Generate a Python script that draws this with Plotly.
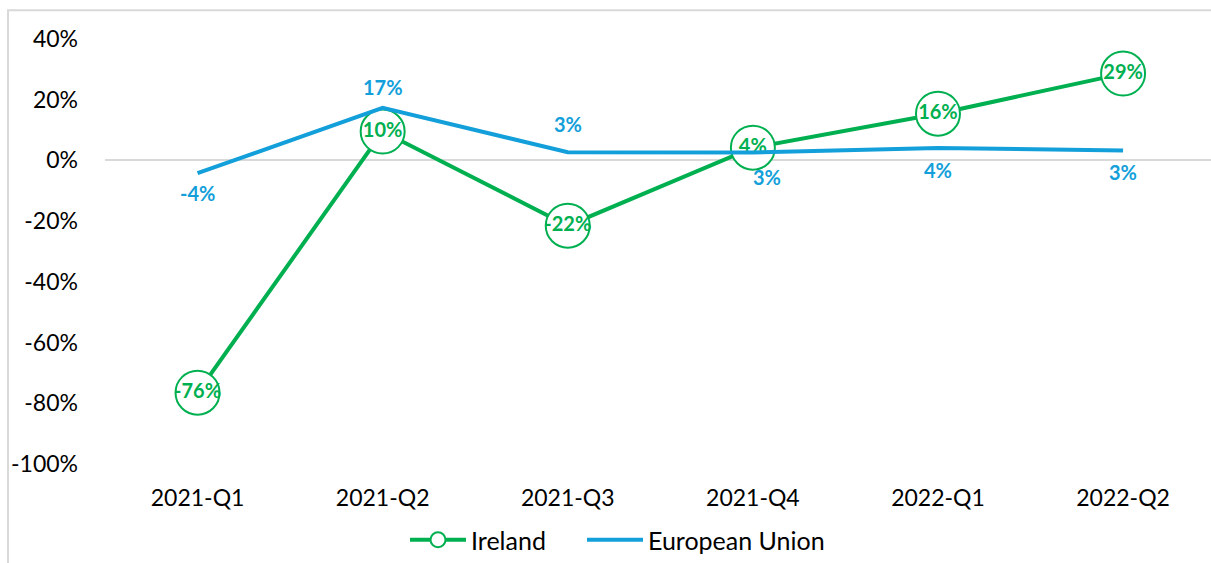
import plotly.graph_objects as go

quarters = ["2021-Q1", "2021-Q2", "2021-Q3", "2021-Q4", "2022-Q1", "2022-Q2"]
ireland = [-76.5, 9.5, -21.5, 4.2, 15.4, 28.6]
ireland_labels = ["-76%", "10%", "-22%", "4%", "16%", "29%"]
eu = [-4.2, 17.3, 2.7, 2.6, 4.1, 3.3]
eu_labels = ["-4%", "17%", "3%", "3%", "4%", "3%"]
y_ticks = [40, 20, 0, -20, -40, -60, -80, -100]

GREEN = "#00B050"
BLUE = "#139FDA"
FONT = "Lato"

W, H = 1211, 563
ML, MR, MT, MB = 105, 0, 39, 96
PW = W - ML - MR
PH = H - MT - MB

fig = go.Figure()

fig.add_trace(go.Scatter(
    x=quarters, y=ireland, mode="lines+markers+text",
    text=ireland_labels, textposition="middle center",
    textfont=dict(family=FONT, size=20, color=GREEN, weight="bold"),
    line=dict(color=GREEN, width=4),
    marker=dict(symbol="circle", size=44, color="white", line=dict(color=GREEN, width=2)),
    showlegend=False, cliponaxis=False, hoverinfo="skip",
))
fig.add_trace(go.Scatter(
    x=[None], y=[None], mode="lines+markers", name="Ireland", legend="legend",
    line=dict(color=GREEN, width=4),
    marker=dict(symbol="circle", size=15, color="white", line=dict(color=GREEN, width=2)),
))
fig.add_trace(go.Scatter(
    x=quarters, y=eu, mode="lines", name="European Union", legend="legend2",
    line=dict(color=BLUE, width=4), cliponaxis=False,
))

shifts = [(0, -20), (0, 21), (0, 28), (14, -24), (0, -22), (0, -22)]
for q, v, t, (dx, dy) in zip(quarters, eu, eu_labels, shifts):
    fig.add_annotation(x=q, y=v, text=t, showarrow=False, xshift=dx, yshift=dy,
                       font=dict(family=FONT, size=20, color=BLUE, weight="bold"))

# outer chart border
fig.add_shape(type="rect", xref="paper", yref="paper",
              x0=(8 - ML) / PW, x1=(1240 - ML) / PW,
              y0=(H - MB - 620) / PH, y1=(H - MB - 10) / PH,
              line=dict(color="#D9D9D9", width=2), fillcolor="rgba(0,0,0,0)", layer="below")

legend_style = dict(orientation="h", xanchor="left",
                    y=(H - MB - 544) / PH, yanchor="middle",
                    font=dict(family=FONT, size=25, color="#000"),
                    bgcolor="rgba(0,0,0,0)", itemwidth=56)

fig.update_layout(
    width=W, height=H,
    margin=dict(l=ML, r=MR, t=MT, b=MB),
    paper_bgcolor="white", plot_bgcolor="white",
    font=dict(family=FONT, size=23, color="#000000"),
    xaxis=dict(type="category", range=[-0.5, 5.475], showgrid=False, showline=False,
               zeroline=False, ticks="", ticklabelstandoff=18,
               tickfont=dict(family=FONT, size=23, color="#000")),
    yaxis=dict(range=[-100, 40], tickvals=y_ticks,
               ticktext=[f"{v}%" for v in y_ticks],
               showgrid=False, zeroline=True, zerolinecolor="#D9D9D9", zerolinewidth=2,
               showline=False, ticks="", ticklabelstandoff=26,
               tickfont=dict(family=FONT, size=23, color="#000")),
    legend=dict(x=(405 - ML) / PW, **legend_style),
    legend2=dict(x=(582 - ML) / PW, **legend_style),
    showlegend=True,
)

fig.write_html("out.html", config={"displayModeBar": False},
               post_script="document.body.style.margin='0px';document.body.style.overflow='hidden';")
